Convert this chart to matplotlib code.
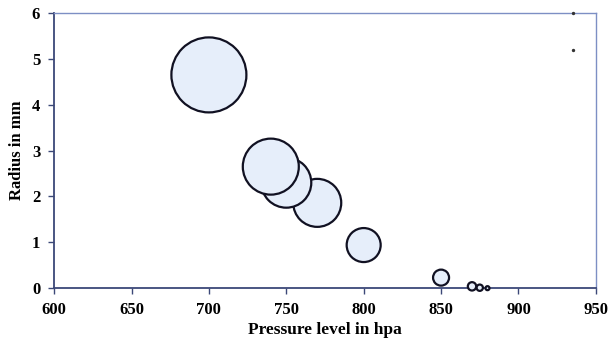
import numpy as np
import matplotlib
matplotlib.use("Agg")
import matplotlib.pyplot as plt

# bubble data
pressure = [700, 740, 750, 770, 800, 850, 870, 875, 880]
radius = [4.65, 2.65, 2.30, 1.86, 0.94, 0.23, 0.04, 0.01, 0.0]
bubble = [5625, 3136, 2500, 2304, 1156, 256, 70, 40, 16]

# stray specks near the top right corner
speck_x = [935, 935]
speck_y = [6.0, 5.2]

plt.rcParams['font.family'] = ['Liberation Serif', 'DejaVu Serif']
plt.rcParams['font.weight'] = 'bold'

fig = plt.figure(figsize=(6.08, 3.51), dpi=100)
ax = fig.add_axes([0.089, 0.179, 0.891, 0.784])

# pixel diameter -> points^2; draw high pressure first so lower ones sit on top
sizes = np.array(bubble) * 0.72 ** 2
order = np.argsort(pressure)[::-1]
ax.scatter(np.array(pressure)[order], np.array(radius)[order], s=sizes[order],
           facecolor='#e6eefa', edgecolor='#111122', linewidth=1.6,
           clip_on=False, zorder=3)
ax.scatter(speck_x, speck_y, s=2, color='#333333', clip_on=False, zorder=3)

ax.set_xlim(600, 950)
ax.set_ylim(0, 6)
ax.set_xticks(range(600, 951, 50))
ax.set_yticks(range(0, 7))

for s in ['left', 'bottom']:
    ax.spines[s].set_color('#3c4878')
    ax.spines[s].set_linewidth(1.3)
for s in ['top', 'right']:
    ax.spines[s].set_color('#7d8fc4')
    ax.spines[s].set_linewidth(1.0)

ax.tick_params(direction='out', length=4, width=1, color='#3c4878',
               labelsize=12, pad=6)
for lab in ax.get_xticklabels() + ax.get_yticklabels():
    lab.set_fontweight('bold')

ax.set_xlabel('Pressure level in hpa', fontsize=12.5, fontweight='bold', labelpad=3)
ax.set_ylabel('Radius in mm', fontsize=12, fontweight='bold', labelpad=5)

fig.savefig('out.png', dpi=100)
